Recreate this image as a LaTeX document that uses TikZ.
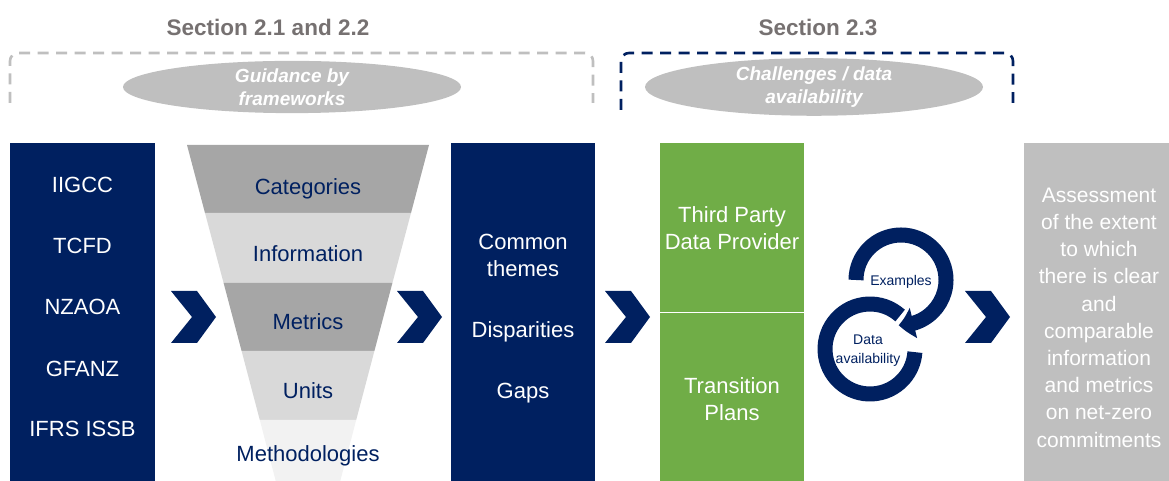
\documentclass[tikz,border=0pt]{standalone}
\usepackage{fontspec}
\setmainfont{Liberation Sans}
\usetikzlibrary{arrows.meta,bending,shapes.geometric}
\definecolor{navy}{RGB}{0,32,96}
\definecolor{leaf}{RGB}{112,173,71}
\definecolor{greybox}{RGB}{191,191,191}
\definecolor{banddark}{RGB}{166,166,166}
\definecolor{bandlight}{RGB}{217,217,217}
\definecolor{bandpale}{RGB}{242,242,242}
\definecolor{headgrey}{RGB}{118,113,113}
\begin{document}
\begin{tikzpicture}[x=1pt,y=1pt,
  colbox/.style={inner sep=0pt, outer sep=0pt, minimum width=144pt, minimum height=340pt},
  bigtxt/.style={font=\fontsize{22}{27}\selectfont, align=center, inner sep=0pt},
  wtxt/.style={bigtxt, text=white},
  ntxt/.style={bigtxt, text=navy},
  headtxt/.style={font=\fontsize{22.5}{26}\selectfont\bfseries, text=headgrey, inner sep=0pt},
  oval/.style={ellipse, fill=greybox, inner sep=0pt, minimum width=338pt, minimum height=44pt,
     font=\fontsize{19}{23}\selectfont\bfseries\itshape, text=white, align=center},
  bracket/.style={line width=2.6pt, dash pattern=on 11pt off 7.5pt, rounded corners=8pt},
  chev/.pic={\fill[navy] (0,26) -- (26,26) -- (45,0) -- (26,-26) -- (0,-26) -- (21,0) -- cycle;},
  cyc/.style={navy, line width=15pt},
  smalltxt/.style={font=\fontsize{14}{19}\selectfont, text=navy, align=center, inner sep=0pt}
]
\useasboundingbox (0,0) rectangle (1169,481);

% headings
\node[headtxt, anchor=base] (h1) at (268,445.5) {Section 2.1 and 2.2};
\node[headtxt, anchor=base] (h2) at (818,445.5) {Section 2.3};

% brackets
\draw[bracket, draw=greybox] (10,378) -- (10,428) -- (593,428) -- (593,378);
\draw[bracket, draw=navy] (621,371) -- (621,428) -- (1013,428) -- (1013,378);

% ovals
\node[oval] (o1) at (292,394) {Guidance by\\frameworks};
\node[oval] (o2) at (814,394) {Challenges / data\\availability};

% column boxes
\node[colbox, fill=navy, minimum width=145pt] (src) at (82.5,168) {};
\node[colbox, fill=navy] (themes) at (523,168) {};
\node[colbox, fill=leaf] (prov) at (732,168) {};
\node[colbox, fill=greybox, minimum width=150pt] (assess) at (1099,168) {};
\draw[white, line width=1pt] (prov.west) -- (prov.east);

% left box texts
\node[wtxt, anchor=base] (t1) at (82.5,288.5) {IIGCC};
\node[wtxt, anchor=base] (t2) at (82.5,227) {TCFD};
\node[wtxt, anchor=base] (t3) at (82.5,166) {NZAOA};
\node[wtxt, anchor=base] (t4) at (82.5,104.5) {GFANZ};
\node[wtxt, anchor=base] (t5) at (82.5,44) {IFRS ISSB};

% funnel
\fill[banddark]  (187,336) -- (429,336) -- (411,268) -- (205,268) -- cycle;
\fill[bandlight] (205,268) -- (411,268) -- (392.4,198) -- (223.6,198) -- cycle;
\fill[banddark]  (223.6,198) -- (392.4,198) -- (374.4,130) -- (241.6,130) -- cycle;
\fill[bandlight] (241.6,130) -- (374.4,130) -- (356.2,61) -- (259.8,61) -- cycle;
\fill[bandpale]  (259.8,61) -- (356.2,61) -- (340,-1) -- (276,-1) -- cycle;
\node[ntxt, anchor=base] (f1) at (308,286) {Categories};
\node[ntxt, anchor=base] (f2) at (308,219.5) {Information};
\node[ntxt, anchor=base] (f3) at (308,151.5) {Metrics};
\node[ntxt, anchor=base] (f4) at (308,82.5) {Units};
\node[ntxt, anchor=base] (f5) at (308,19.5) {Methodologies};

% middle box texts
\node[wtxt] (m1) at (523,225.5) {Common\\themes};
\node[wtxt, anchor=base] (m2) at (523,143) {Disparities};
\node[wtxt, anchor=base] (m3) at (523,82) {Gaps};

% green box texts
\node[wtxt] (g1) at (732,252.5) {Third Party\\Data Provider};
\node[wtxt] (g2) at (732,81.5) {Transition\\Plans};

% right box text
\node[bigtxt, font=\fontsize{21}{27.2}\selectfont, text=white] (a1) at (1099,163.5)
  {Assessment\\of the extent\\to which\\there is clear\\and\\comparable\\information\\and metrics\\on net-zero\\commitments};

% chevrons
\pic (ch1) at (171,164) {chev};
\pic (ch2) at (397,164) {chev};
\pic (ch3) at (605,164) {chev};
\pic (ch4) at (965,164) {chev};

% cycle
\coordinate (c1) at (901,201);
\coordinate (c2) at (870,132);
\draw[cyc] (c2) ++(48:45) arc[start angle=48, end angle=356, radius=45];
\draw[cyc, -{Triangle[width=30pt,length=15pt,bend]}] (c1) ++(180:45) arc[start angle=180, end angle=-93, radius=45];
\node[smalltxt] (ex) at (901,199) {Examples};
\node[smalltxt] (da) at (868,130.5) {Data\\availability};
\end{tikzpicture}
\end{document}
